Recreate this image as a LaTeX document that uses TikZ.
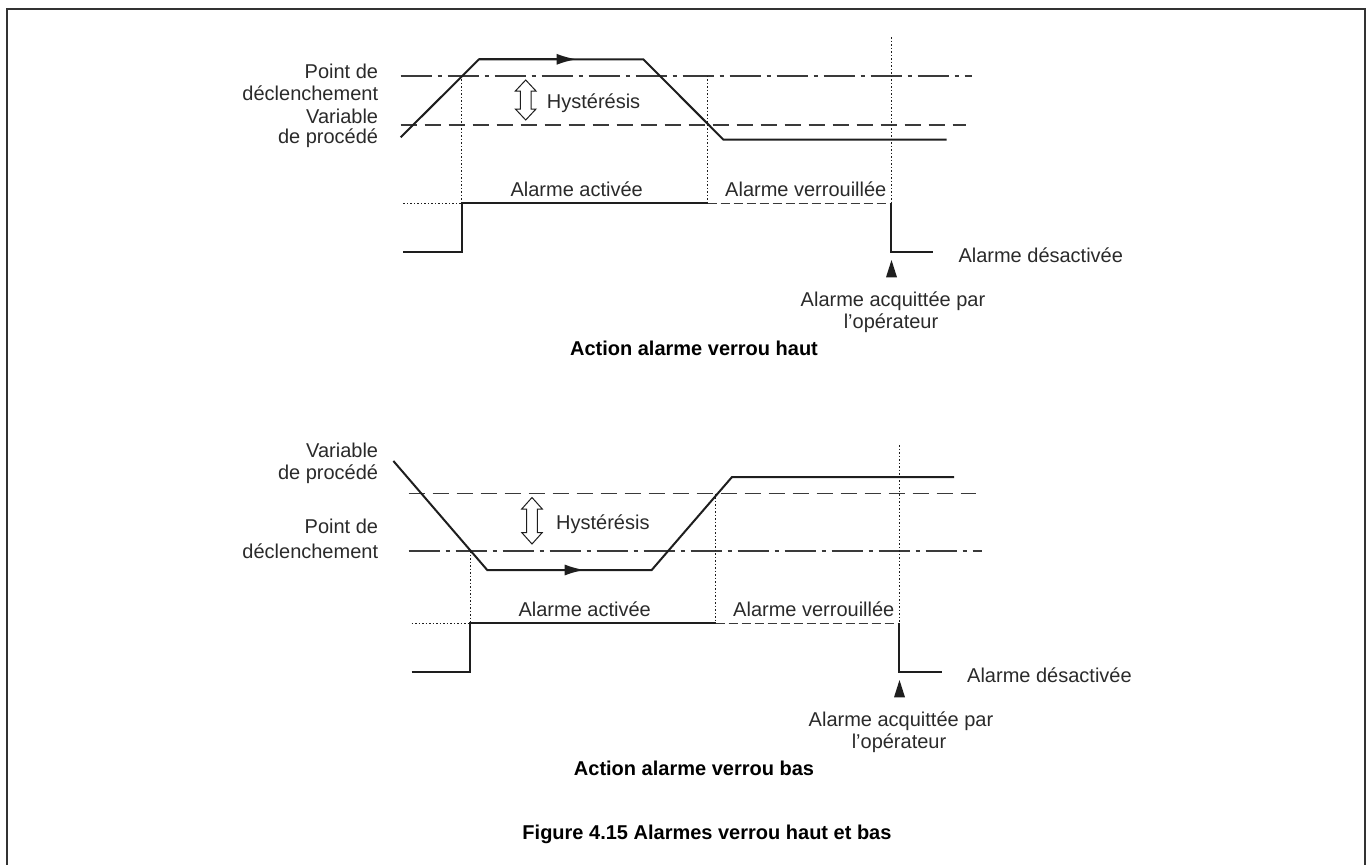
\documentclass[tikz,border=0pt]{standalone}
\usepackage{fontspec}
\setmainfont{Liberation Sans}
\usetikzlibrary{arrows.meta}
\definecolor{ink}{HTML}{1E1E1E}
\definecolor{txt}{HTML}{2A2A2A}
\definecolor{refl}{HTML}{3A3A3A}
\begin{document}
\begin{tikzpicture}[x=1pt,y=-1pt,
  lbl/.style={font=\fontsize{20}{22}\selectfont, text=txt, inner sep=0pt},
  ttl/.style={font=\fontsize{20}{22}\selectfont\bfseries, text=black, inner sep=0pt},
  pv/.style={draw=ink, line width=2pt, line join=miter},
  sig/.style={draw=ink, line width=2pt, line join=miter},
  trip/.style={draw=refl, line width=1.6pt, dash pattern=on 31pt off 6pt on 4pt off 6pt},
  hyst/.style={draw=refl, line width=1.6pt, dash pattern=on 16pt off 8pt},
  latch/.style={draw=refl, line width=1.6pt, dash pattern=on 9pt off 4pt},
  guide/.style={draw=ink, line width=1pt, dash pattern=on 1.5pt off 2pt},
  pvarrow/.style={-{Latex[length=20pt,width=11pt]}},
  ack/.style={fill=ink, draw=none},
  harrow/.style={draw=ink, fill=white, line width=1pt, line join=miter}
]
\useasboundingbox (0,0) rectangle (1366,865);
% frame
\draw[line width=2pt, draw=black!80] (6.5,880) -- (6.5,8.5) -- (1364.5,8.5) -- (1364.5,880);

% ================= TOP GRAPH =================
\draw[trip] (400.7,75.7) -- (971.7,75.7);
\draw[hyst] (400.7,125) -- (966,125);
% guides
\draw[guide] (461.7,75.7) -- (461.7,203.3);
\draw[guide] (707.7,75.7) -- (707.7,203.3);
\draw[guide] (891.3,37) -- (891.3,203.3);
% process variable
\coordinate (a1) at (400.7,137.3);
\coordinate (a2) at (479,59.3);
\coordinate (a3) at (643.3,59.3);
\coordinate (a4) at (723.3,139.5);
\coordinate (a5) at (946.7,139.5);
\coordinate (am) at (576.7,59.3);
\draw[pv] (a1) -- (a2) -- (a3) -- (a4) -- (a5);
\draw[pv, pvarrow] (a2) -- (am);
% hysteresis double arrow
\draw[harrow] (525.7,80) -- (536,91) -- (531,91) -- (531,109) -- (536,109) -- (525.7,120)
  -- (515.4,109) -- (520.4,109) -- (520.4,91) -- (515.4,91) -- cycle;
\node[lbl, anchor=base west] (th) at (546.7,108) {Hystérésis};
% labels left
\node[lbl, anchor=base east] (tp1) at (378.3,78.7) {Point de};
\node[lbl, anchor=base east] (tp2) at (378.3,100.3) {déclenchement};
\node[lbl, anchor=base east] (tv1) at (378.3,123.7) {Variable};
\node[lbl, anchor=base east] (tv2) at (378.3,143) {de procédé};
% alarm signal
\draw[guide] (403.3,203.3) -- (461.7,203.3);
\draw[sig] (403.3,251.7) -- (461.7,251.7) -- (461.7,203.3) -- (707.7,203.3);
\draw[latch] (707.7,203.3) -- (891.3,203.3);
\draw[sig] (891.3,203.3) -- (891.3,251.7) -- (933.3,251.7);
\fill[ack] (891.5,260) -- (897,277.3) -- (886,277.3) -- cycle;
\node[lbl, anchor=base] (ta) at (576.7,196.7) {Alarme activée};
\node[lbl, anchor=base] (tl) at (805.8,196.7) {Alarme verrouillée};
\node[lbl, anchor=base west] (td) at (958.3,262) {Alarme désactivée};
\node[lbl, anchor=base] (tq1) at (893,306.7) {Alarme acquittée par};
\node[lbl, anchor=base] (tq2) at (891,328) {l’opérateur};
\node[ttl, anchor=base] (tt) at (694,355) {Action alarme verrou haut};

% ================= BOTTOM GRAPH =================
\draw[hyst] (408.7,493.6) -- (976,493.6);
\draw[trip] (408.7,551) -- (982,551);
\draw[guide] (470,551) -- (470,623.3);
\draw[guide] (715.6,493.6) -- (715.6,623.3);
\draw[guide] (899.3,445) -- (899.3,623.3);
\coordinate (b1) at (393.4,461);
\coordinate (b2) at (487.2,570);
\coordinate (b3) at (651.7,570);
\coordinate (b4) at (732,477);
\coordinate (b5) at (954,477);
\coordinate (bm) at (584.7,570);
\draw[pv] (b1) -- (b2) -- (b3) -- (b4) -- (b5);
\draw[pv, pvarrow] (b2) -- (bm);
\draw[harrow] (532,497.5) -- (542.3,509) -- (537.3,509) -- (537.3,532.5) -- (542.3,532.5) -- (532,544)
  -- (521.7,532.5) -- (526.7,532.5) -- (526.7,509) -- (521.7,509) -- cycle;
\node[lbl, anchor=base west] (bh) at (556,529) {Hystérésis};
\node[lbl, anchor=base east] (bv1) at (378.3,457) {Variable};
\node[lbl, anchor=base east] (bv2) at (378.3,479.5) {de procédé};
\node[lbl, anchor=base east] (bp1) at (378.3,533.7) {Point de};
\node[lbl, anchor=base east] (bp2) at (378.3,558.7) {déclenchement};
\draw[guide] (411.6,623.3) -- (470,623.3);
\draw[sig] (411.6,671.7) -- (470,671.7) -- (470,623.3) -- (715.6,623.3);
\draw[latch] (715.6,623.3) -- (899.3,623.3);
\draw[sig] (899.3,623.3) -- (899.3,671.7) -- (941.6,671.7);
\fill[ack] (899.5,680) -- (905,697.3) -- (894,697.3) -- cycle;
\node[lbl, anchor=base] (ba) at (584.7,616.7) {Alarme activée};
\node[lbl, anchor=base] (bl) at (813.8,616.7) {Alarme verrouillée};
\node[lbl, anchor=base west] (bd) at (967,682) {Alarme désactivée};
\node[lbl, anchor=base] (bq1) at (901,726.7) {Alarme acquittée par};
\node[lbl, anchor=base] (bq2) at (899,748) {l’opérateur};
\node[ttl, anchor=base] (bt) at (694,775) {Action alarme verrou bas};

\node[ttl, anchor=base] (cap) at (707,839) {Figure 4.15 Alarmes verrou haut et bas};
\end{tikzpicture}
\end{document}
